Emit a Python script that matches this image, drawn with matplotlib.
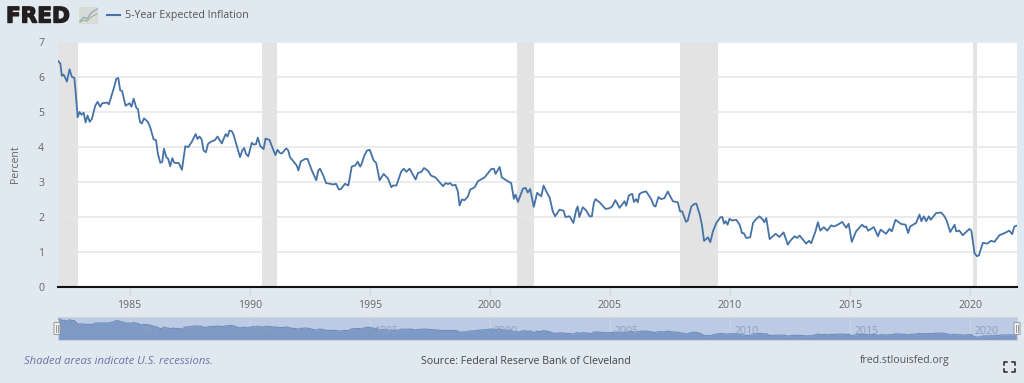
import matplotlib
matplotlib.use("Agg")
import matplotlib.pyplot as plt
import matplotlib.patheffects as pe
from matplotlib.patches import Rectangle, FancyBboxPatch

plt.rcParams['font.family'] = ['Open Sans', 'DejaVu Sans']

# Daten (Jahr als Dezimalzahl, Prozent)
years_a = [1982.04, 1982.12, 1982.18, 1982.25, 1982.32, 1982.39, 1982.50, 1982.60, 1982.70, 1982.75,
           1982.84, 1982.92, 1983.00, 1983.09, 1983.17, 1983.25, 1983.34, 1983.43, 1983.57, 1983.67,
           1983.78, 1983.86, 1984.06, 1984.14, 1984.33, 1984.45, 1984.53, 1984.61, 1984.69, 1984.83,
           1985.00, 1985.08, 1985.17, 1985.28, 1985.35, 1985.43, 1985.51, 1985.60, 1985.76, 1985.86,
           1986.00, 1986.10, 1986.18, 1986.28, 1986.36, 1986.43, 1986.53, 1986.61, 1986.69, 1986.78,
           1986.86, 1987.05, 1987.18, 1987.32, 1987.45, 1987.59, 1987.75, 1987.83, 1987.91, 1988.00,
           1988.08, 1988.18, 1988.26, 1988.38, 1988.56, 1988.66, 1988.84, 1989.00, 1989.08, 1989.16,
           1989.26, 1989.34, 1989.60, 1989.69, 1989.77, 1989.85, 1989.94, 1990.09, 1990.16, 1990.26,
           1990.34, 1990.44, 1990.58, 1990.66, 1990.83, 1990.92, 1991.07, 1991.16, 1991.27, 1991.35,
           1991.52, 1991.60, 1991.68, 1991.96, 1992.03, 1992.13, 1992.31, 1992.41, 1992.59, 1992.77,
           1992.86, 1992.93, 1993.07, 1993.18, 1993.49, 1993.60, 1993.71, 1993.79, 1993.97, 1994.11,
           1994.25, 1994.39, 1994.50, 1994.60]
values_a = [6.45, 6.38, 6.03, 6.07, 5.98, 5.87, 6.22, 6.00, 5.98, 5.60,
            4.85, 5.00, 4.92, 4.98, 4.70, 4.90, 4.72, 4.80, 5.18, 5.29,
            5.15, 5.25, 5.27, 5.22, 5.65, 5.95, 5.97, 5.62, 5.60, 5.18,
            5.25, 5.15, 5.38, 5.12, 5.08, 4.72, 4.67, 4.82, 4.72, 4.56,
            4.22, 4.20, 3.80, 3.55, 3.57, 3.95, 3.71, 3.66, 3.45, 3.68,
            3.55, 3.54, 3.35, 4.02, 4.00, 4.15, 4.37, 4.23, 4.30, 4.22,
            3.90, 3.85, 4.08, 4.15, 4.20, 4.30, 4.10, 4.37, 4.30, 4.47,
            4.45, 4.33, 3.71, 3.90, 3.97, 3.80, 3.73, 4.12, 4.07, 4.08,
            4.27, 4.03, 3.94, 4.24, 4.20, 4.03, 3.77, 3.92, 3.82, 3.82,
            3.96, 3.91, 3.71, 3.47, 3.33, 3.59, 3.66, 3.66, 3.33, 3.05,
            3.33, 3.38, 3.18, 2.97, 2.93, 2.95, 2.79, 2.79, 2.95, 2.90,
            3.44, 3.47, 3.58, 3.44]

years_b = [1994.65, 1994.79, 1994.89, 1995.00, 1995.16, 1995.27, 1995.41, 1995.58, 1995.76, 1995.90,
           1995.97, 1996.11, 1996.31, 1996.42, 1996.52, 1996.66, 1996.91, 1997.01, 1997.15, 1997.26,
           1997.42, 1997.56, 1997.74, 1998.05, 1998.16, 1998.26, 1998.35, 1998.44, 1998.57, 1998.67,
           1998.74, 1998.84, 1998.95, 1999.09, 1999.18, 1999.37, 1999.50, 1999.78, 2000.06, 2000.17,
           2000.24, 2000.41, 2000.50, 2000.75, 2000.89, 2001.00, 2001.07, 2001.17, 2001.38, 2001.49,
           2001.58, 2001.68, 2001.83, 2001.97, 2002.14, 2002.24, 2002.35, 2002.49, 2002.62, 2002.72,
           2002.90, 2003.07, 2003.15, 2003.32, 2003.48, 2003.60, 2003.66, 2003.73, 2003.87, 2004.01,
           2004.15, 2004.25, 2004.33, 2004.40, 2004.57, 2004.82, 2004.98, 2005.09, 2005.23, 2005.40,
           2005.61, 2005.68, 2005.79, 2005.93, 2006.00, 2006.09, 2006.16, 2006.23, 2006.37, 2006.51,
           2006.72, 2006.83, 2006.90, 2007.02, 2007.13, 2007.27, 2007.41, 2007.62, 2007.83, 2007.92,
           2008.01, 2008.17, 2008.24]
values_b = [3.50, 3.78, 3.90, 3.92, 3.62, 3.54, 3.05, 3.23, 3.10, 2.85,
            2.90, 2.90, 3.30, 3.38, 3.29, 3.38, 3.07, 3.26, 3.29, 3.40,
            3.32, 3.18, 3.13, 2.88, 2.97, 2.94, 2.97, 2.90, 2.92, 2.73,
            2.33, 2.50, 2.48, 2.59, 2.78, 2.85, 3.02, 3.13, 3.37, 3.38,
            3.23, 3.43, 3.13, 3.02, 2.97, 2.52, 2.64, 2.43, 2.81, 2.83,
            2.70, 2.80, 2.29, 2.69, 2.59, 2.90, 2.73, 2.56, 2.16, 2.02,
            2.21, 2.18, 2.00, 2.02, 1.83, 2.21, 2.30, 2.00, 2.28, 2.19,
            2.02, 2.02, 2.40, 2.51, 2.42, 2.23, 2.25, 2.30, 2.48, 2.26,
            2.45, 2.32, 2.62, 2.66, 2.43, 2.51, 2.42, 2.66, 2.71, 2.73,
            2.51, 2.32, 2.30, 2.57, 2.51, 2.54, 2.73, 2.45, 2.42, 2.16,
            2.16, 1.86, 1.90]

years_c = [2008.39, 2008.53, 2008.60, 2008.74, 2008.83, 2008.92, 2009.01, 2009.08, 2009.18, 2009.29,
           2009.43, 2009.60, 2009.68, 2009.75, 2009.82, 2009.90, 2009.98, 2010.08, 2010.26, 2010.40,
           2010.50, 2010.57, 2010.68, 2010.84, 2010.96, 2011.09, 2011.23, 2011.37, 2011.43, 2011.51,
           2011.65, 2011.90, 2012.06, 2012.23, 2012.41, 2012.51, 2012.69, 2012.79, 2012.90, 2013.04,
           2013.17, 2013.29, 2013.38, 2013.56, 2013.66, 2013.76, 2013.91, 2014.05, 2014.21, 2014.33,
           2014.49, 2014.67, 2014.84, 2014.94, 2015.07, 2015.25, 2015.50, 2015.60, 2015.67, 2015.75,
           2015.99, 2016.16, 2016.27, 2016.50, 2016.64, 2016.74, 2016.89, 2017.13, 2017.31, 2017.42,
           2017.50, 2017.75, 2017.89, 2017.97, 2018.07, 2018.17, 2018.28, 2018.36, 2018.58, 2018.79,
           2018.93, 2019.03, 2019.17, 2019.35, 2019.42, 2019.55, 2019.69, 2019.97, 2020.05, 2020.18,
           2020.28, 2020.36, 2020.53, 2020.71, 2020.87, 2021.01, 2021.22, 2021.43, 2021.63, 2021.75,
           2021.84, 2021.93]
values_c = [2.30, 2.38, 2.38, 2.07, 1.78, 1.32, 1.37, 1.42, 1.28, 1.59,
            1.83, 1.99, 2.00, 1.81, 1.88, 1.78, 1.95, 1.90, 1.92, 1.78,
            1.54, 1.54, 1.40, 1.42, 1.83, 1.94, 2.02, 1.92, 1.85, 1.97,
            1.37, 1.52, 1.43, 1.56, 1.21, 1.32, 1.45, 1.40, 1.47, 1.35,
            1.24, 1.32, 1.25, 1.59, 1.85, 1.61, 1.71, 1.61, 1.76, 1.73,
            1.78, 1.86, 1.69, 1.81, 1.29, 1.59, 1.78, 1.71, 1.73, 1.61,
            1.71, 1.45, 1.64, 1.52, 1.66, 1.59, 1.92, 1.80, 1.78, 1.54,
            1.73, 1.83, 2.07, 1.88, 2.02, 1.88, 2.02, 1.92, 2.11, 2.13,
            2.02, 1.88, 1.57, 1.78, 1.59, 1.61, 1.48, 1.66, 1.61, 0.97,
            0.88, 0.90, 1.26, 1.24, 1.32, 1.29, 1.48, 1.54, 1.61, 1.51,
            1.73, 1.75]

recession_start = [1982.00, 1990.50, 2001.13, 2007.92, 2020.10]
recession_end = [1982.85, 1991.15, 2001.83, 2009.48, 2020.28]

year_ticks = [1985, 1990, 1995, 2000, 2005, 2010, 2015, 2020]
value_ticks = [0, 1, 2, 3, 4, 5, 6, 7]

years = years_a + years_b + years_c
values = values_a + values_b + values_c

W, H = 1024, 383
bg = '#e1e9f0'
blue = '#4572a7'
grey = '#666666'
x_min, x_max = 1982.02, 2021.95


def px_axes(left, top, right, bottom):
    return fig.add_axes([left/W, 1-bottom/H, (right-left)/W, (bottom-top)/H])


fig = plt.figure(figsize=(W/100, H/100), dpi=100, facecolor=bg)

# Hauptplot
ax = px_axes(58, 42, 1017, 287)
ax.set_facecolor('white')
ax.set_xlim(x_min, x_max)
ax.set_ylim(0, 7)
for a, b in zip(recession_start, recession_end):
    ax.axvspan(a, b, color='#e3e3e3', lw=0, zorder=1)
ax.set_yticks(value_ticks)
ax.set_xticks(year_ticks)
ax.grid(axis='y', color='#e6e6e6', lw=1.1, zorder=1.5)
ax.plot(years, values, color=blue, lw=1.3, zorder=3, solid_joinstyle='round')
for s in ['top', 'left', 'right']:
    ax.spines[s].set_visible(False)
ax.spines['bottom'].set_color('#111111')
ax.spines['bottom'].set_linewidth(1.5)
ax.tick_params(axis='y', length=0, pad=10, labelsize=7.6, labelcolor=grey)
ax.tick_params(axis='x', length=6, width=0.8, color='#ccd6eb', pad=3, labelsize=7.6, labelcolor=grey)
ax.set_ylabel('Percent', fontsize=7.6, color=grey, labelpad=12)

# Navigator
nav = px_axes(58, 317, 1017, 340)
nav.set_facecolor('#bccbe3')
nav.set_xlim(x_min, x_max)
nav.set_ylim(0, 7.08)
nav.fill_between(years, values, 0, color='#7d9ac6', lw=0, zorder=2)
nav.plot(years, values, color='#6d8dbd', lw=0.8, zorder=3)
nav.set_xticks(year_ticks)
nav.set_xticklabels([])
nav.set_yticks([])
nav.tick_params(axis='x', length=0)
nav.grid(axis='x', color='#c9d4e6', lw=0.7, zorder=1)
for y in year_ticks:
    nav.annotate(str(y), (y, 0), xytext=(3, 6), textcoords='offset points', fontsize=7.6,
                 color='#8d9fbd', ha='left', va='center', zorder=4)
for s in nav.spines.values():
    s.set_color('#cdd3dc')
    s.set_linewidth(0.8)

# Overlay in Pixeln fuer Kopf, Fuss und Griffe
ov = fig.add_axes([0, 0, 1, 1], facecolor='none')
ov.set_xlim(0, W)
ov.set_ylim(H, 0)
ov.axis('off')

ov.text(6, 16.5, 'FRED', fontsize=15.5, fontweight='bold', color='#231f20', va='center', ha='left',
        family=['DejaVu Sans'], path_effects=[pe.withStroke(linewidth=1.0, foreground='#231f20')])
ov.add_patch(Rectangle((79, 7), 19, 17, fc='#d8dcd8', ec='none'))
ov.plot([80, 84, 87, 91, 97], [21, 17, 19, 13, 9], color='#8a9fc0', lw=0.8)
ov.plot([80, 84, 87, 91, 97], [22, 20, 21, 17, 14], color='#9db58a', lw=0.8)
ov.plot([107, 120], [15, 15], color=blue, lw=1.5)
ov.text(125, 15.5, '5-Year Expected Inflation', fontsize=7.7, color='#555555', va='center', ha='left')

ov.text(24, 361, 'Shaded areas indicate U.S. recessions.', fontsize=8.15, style='italic', color='#6a75a5', va='center')
ov.text(525.5, 361, 'Source: Federal Reserve Bank of Cleveland', fontsize=7.67, color='#444444', va='center', ha='center')
ov.text(860, 361, 'fred.stlouisfed.org', fontsize=7.6, color='#555555', va='center', ha='left')

# Griffe am Navigator
for hx in [57, 1017]:
    ov.add_patch(FancyBboxPatch((hx-2.5, 323), 5, 11, boxstyle='round,pad=0.5', fc='#f2f2f2', ec='#999999', lw=0.7))
    ov.plot([hx-1, hx-1], [325, 332], color='#888888', lw=0.6)
    ov.plot([hx+1, hx+1], [325, 332], color='#888888', lw=0.6)

# Vollbild-Symbol
for cx, cy, dx, dy in [(1004, 362, 1, 1), (1015, 362, -1, 1), (1004, 372, 1, -1), (1015, 372, -1, -1)]:
    ov.plot([cx+3*dx, cx, cx], [cy, cy, cy+3*dy], color='#222222', lw=1.1)

fig.savefig('out.png', dpi=100, facecolor=bg)
